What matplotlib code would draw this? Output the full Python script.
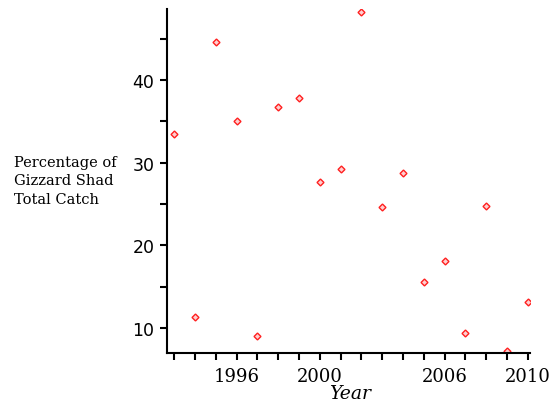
import matplotlib
matplotlib.use("Agg")
import matplotlib.pyplot as plt

# Datos
years = [1993, 1994, 1995, 1996, 1997, 1998, 1999, 2000, 2001,
         2002, 2003, 2004, 2005, 2006, 2007, 2008, 2009, 2010]
percent = [33.5, 11.3, 44.6, 35.0, 9.0, 36.8, 37.8, 27.7, 29.2,
           48.3, 24.6, 28.8, 15.6, 18.1, 9.4, 24.8, 7.2, 13.1]

x_labels = {1996: "1996", 2000: "2000", 2006: "2006", 2010: "2010"}
y_labels = {10: "10", 20: "20", 30: "30", 40: "40"}

fig = plt.figure(figsize=(5.54, 4.06), dpi=100)
ax = fig.add_axes([0.3014, 0.128, 0.655, 0.847])

ax.plot(years, percent, linestyle="none", marker="D", markersize=3.5,
        markerfacecolor="#ffd0d0", markeredgecolor="#ff2020", markeredgewidth=1)

ax.set_xlim(1992.65, 2010.1)
ax.set_ylim(6.95, 48.6)

for s in ["top", "right"]:
    ax.spines[s].set_visible(False)
for s in ["left", "bottom"]:
    ax.spines[s].set_linewidth(1.5)

xt = list(range(1993, 2011))
ax.set_xticks(xt)
ax.set_xticklabels([x_labels.get(v, "") for v in xt], family="DejaVu Serif", fontsize=13)
yt = list(range(10, 50, 5))
ax.set_yticks(yt)
ax.set_yticklabels([y_labels.get(v, "") for v in yt], family="DejaVu Sans", fontsize=12.5)
ax.tick_params(direction="out", length=5, width=1.5)
ax.tick_params(axis="x", pad=5)
ax.tick_params(axis="y", pad=4)

fig.text(0.632, 0.03, "Year", family="DejaVu Serif", style="italic",
         fontsize=13.5, ha="center", va="center")
fig.text(0.025, 0.553, "Percentage of\nGizzard Shad\nTotal Catch",
         family="DejaVu Serif", fontsize=10.5, ha="left", va="center",
         linespacing=1.45)

fig.savefig("out.png", dpi=100)
